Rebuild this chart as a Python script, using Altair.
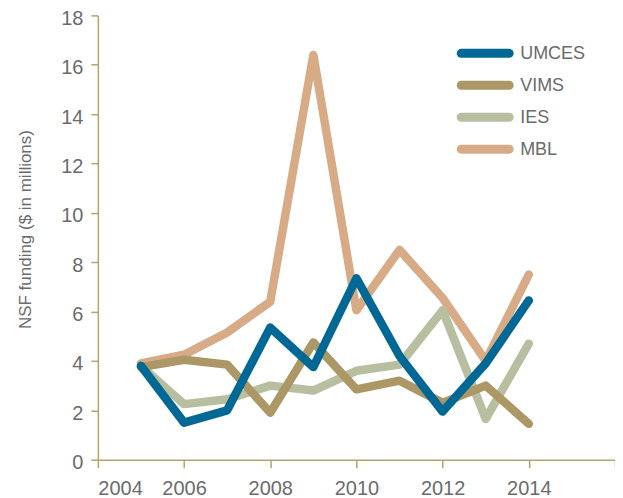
import altair as alt
import pandas as pd

years = [2005, 2006, 2007, 2008, 2009, 2010, 2011, 2012, 2013, 2014]
umces = [3.8, 1.5, 2.0, 5.35, 3.75, 7.35, 4.2, 1.95, 3.9, 6.45]
vims = [3.75, 4.05, 3.85, 1.9, 4.75, 2.85, 3.2, 2.3, 3.0, 1.45]
ies = [3.8, 2.25, 2.45, 3.0, 2.8, 3.6, 3.85, 6.05, 1.65, 4.7]
mbl = [3.9, 4.25, 5.15, 6.4, 16.4, 6.05, 8.5, 6.55, 4.0, 7.5]

series_names = ["UMCES", "VIMS", "IES", "MBL"]
series_colors = ["#006894", "#ab9866", "#b8bea0", "#d8ab87"]
draw_order = [("MBL", mbl), ("IES", ies), ("VIMS", vims), ("UMCES", umces)]

rows = []
for name, vals in draw_order:
    for y, v in zip(years, vals):
        rows.append({"year": y, "value": v, "series": name})
df = pd.DataFrame(rows)

legend_df = pd.DataFrame({"series": series_names, "row": list(range(len(series_names)))})

axis_color = "#b5a36c"
label_color = "#6b6b6b"
font = "Liberation Sans"

color_scale = alt.Scale(domain=series_names, range=series_colors)

lines = alt.Chart(df).mark_line(
    strokeWidth=8.5, strokeCap="round", strokeJoin="round"
).encode(
    x=alt.X("year:Q", scale=alt.Scale(domain=[2004, 2016], nice=False),
            axis=alt.Axis(values=[2004, 2006, 2008, 2010, 2012, 2014, 2016],
                          labelExpr="datum.value == 2016 ? '' : datum.label",
                          format="d", title=None, grid=False,
                          tickSize=8, labelPadding=11, labelFontSize=20)),
    y=alt.Y("value:Q", scale=alt.Scale(domain=[0, 18], nice=False),
            axis=alt.Axis(values=list(range(0, 19, 2)), title="NSF funding ($ in millions)",
                          grid=False, tickSize=7, labelPadding=8, labelFontSize=20,
                          labelOffset=3, titleFontSize=17, titlePadding=26, titleY=214)),
    color=alt.Color("series:N", scale=color_scale, legend=None),
)

leg_y = alt.Y("row:Q", axis=None, scale=alt.Scale(domain=[0, 3], range=[38, 134]))

leg_lines = alt.Chart(legend_df).mark_rule(strokeWidth=9, strokeCap="round").encode(
    x=alt.value(364), x2=alt.value(412), y=leg_y,
    color=alt.Color("series:N", scale=color_scale, legend=None),
)
leg_text = alt.Chart(legend_df).mark_text(
    align="left", baseline="middle", fontSize=18, font=font, color=label_color, dy=1
).encode(x=alt.value(423), y=leg_y, text="series:N")

chart = alt.layer(lines, leg_lines, leg_text).resolve_scale(y="independent").properties(
    width=518, height=445,
    autosize=alt.AutoSizeParams(type="none"),
    padding={"left": 90, "top": 7, "right": 0, "bottom": 38},
).configure_view(stroke=None).configure_axis(
    domainColor=axis_color, tickColor=axis_color, labelColor=label_color,
    titleColor=label_color, labelFont=font, titleFont=font,
    titleFontWeight="normal", domainWidth=1.5, tickWidth=1.5,
)

chart.save("out.html", embed_options={"renderer": "svg", "actions": False})
